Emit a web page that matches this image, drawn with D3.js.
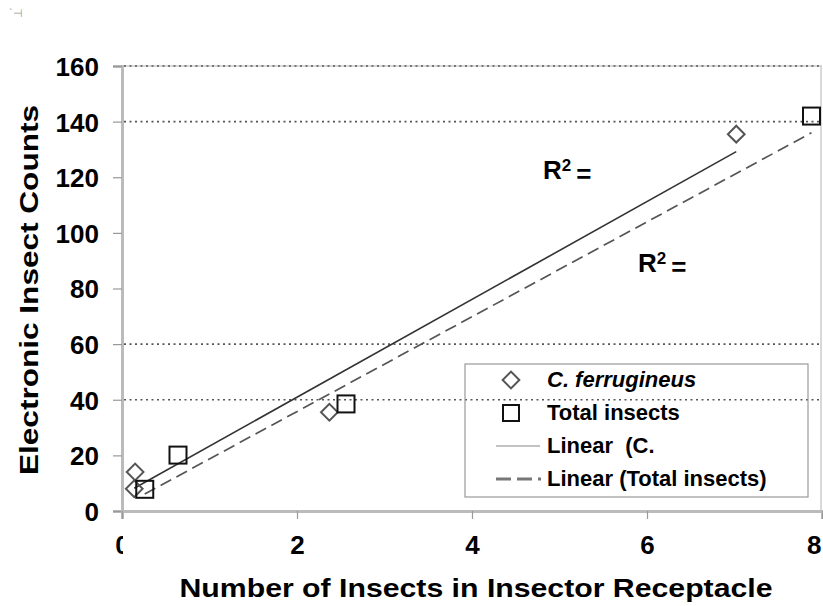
<!DOCTYPE html>
<html>
<head>
<meta charset="utf-8">
<script src="https://cdn.jsdelivr.net/npm/d3@7"></script>
<style>
  html, body { margin: 0; padding: 0; background: #fff; }
  svg { display: block; }
  text { font-family: "Liberation Sans", Arial, sans-serif; font-weight: bold; fill: #000; }
</style>
</head>
<body>
<svg id="chart" width="823" height="606"></svg>
<script>
// ---- data ----
const cferX = [0.15, 0.14, 2.37, 7.02];
const cferY = [14, 8, 35.5, 135.5];
const totalX = [0.26, 0.64, 2.56, 7.88];
const totalY = [7.8, 20.1, 38.5, 142];
const trendCferX = [0.14, 7.02];
const trendCferY = [8.2, 129.2];
const trendTotalX = [0.26, 7.88];
const trendTotalY = [6.1, 136];
const xTicks = [0, 2, 4, 6, 8];
const yTicks = [0, 20, 40, 60, 80, 100, 120, 140, 160];
const gridValues = [40, 60, 140, 160];
const legendLabels = ["C. ferrugineus", "Total insects", "Linear  (C.", "Linear (Total insects)"];
const r2Labels = ["R", "R"];
const xTitle = "Number of Insects in Insector Receptacle";
const yTitle = "Electronic Insect Counts";

const svg = d3.select("#chart");
const pLeft = 122, pRight = 822, pTop = 66, pBottom = 511;
const x = d3.scaleLinear().domain([0, 8]).range([pLeft, pRight]);
const y = d3.scaleLinear().domain([0, 160]).range([pBottom, pTop]);

// corner mark
svg.append("text").attr("x", 9).attr("y", 17).style("font-size", "11px")
  .style("font-weight", "normal").style("fill", "#999").text("`⊣");

// plot border (light)
svg.append("line").attr("x1", pRight - 1).attr("x2", pRight - 1).attr("y1", pTop).attr("y2", pBottom)
  .attr("stroke", "#ccc").attr("stroke-width", 1.5);
svg.append("line").attr("x1", pLeft).attr("x2", pRight).attr("y1", pTop).attr("y2", pTop)
  .attr("stroke", "#ccc").attr("stroke-width", 1.5);

// gridlines (dotted)
svg.append("g").selectAll("line").data(gridValues).join("line")
  .attr("x1", pLeft + 2).attr("x2", pRight - 2)
  .attr("y1", d => y(d)).attr("y2", d => y(d))
  .attr("stroke", "#555").attr("stroke-width", 1.6).attr("stroke-dasharray", "2,3.5");

// y axis
const yAxis = d3.axisLeft(y).tickValues(yTicks).tickSize(9).tickPadding(14);
const gy = svg.append("g").attr("transform", `translate(${pLeft},0)`).call(yAxis);
gy.select(".domain").attr("stroke", "#bbb").attr("stroke-width", 3);
gy.selectAll(".tick line").attr("stroke", "#999").attr("stroke-width", 1.2);
gy.selectAll(".tick text").style("font-size", "26px")
  .style("font-family", "'Liberation Sans', Arial, sans-serif").style("font-weight", "bold")
  .attr("fill", "#000").attr("dy", "0.36em");

// x axis
const xAxis = d3.axisBottom(x).tickValues(xTicks).tickSize(8).tickPadding(17);
const gx = svg.append("g").attr("transform", `translate(0,${pBottom})`).call(xAxis);
gx.select(".domain").attr("stroke", "#bbb").attr("stroke-width", 3);
gx.selectAll(".tick line").attr("stroke", "#999").attr("stroke-width", 1.2);
gx.selectAll(".tick text").style("font-size", "26px")
  .style("font-family", "'Liberation Sans', Arial, sans-serif").style("font-weight", "bold")
  .attr("fill", "#000")
  .attr("text-anchor", d => d === 8 ? "end" : "middle")
  .attr("dx", d => d === 8 ? "-1" : 0);
// the first label is clipped in the reference
const defs = svg.append("defs");
defs.append("clipPath").attr("id", "clip0").append("rect")
  .attr("x", -20).attr("y", 0).attr("width", 20.5).attr("height", 60);
gx.selectAll(".tick").filter(d => d === 0).select("text").attr("clip-path", "url(#clip0)");

// trend lines
const line = d3.line().x(d => x(d[0])).y(d => y(d[1]));
svg.append("path").datum(d3.zip(trendCferX, trendCferY)).attr("d", line)
  .attr("fill", "none").attr("stroke", "#333").attr("stroke-width", 1.6);
svg.append("path").datum(d3.zip(trendTotalX, trendTotalY)).attr("d", line)
  .attr("fill", "none").attr("stroke", "#555").attr("stroke-width", 1.7)
  .attr("stroke-dasharray", "12,6");

// markers
const diamond = d3.symbol().type(d3.symbolSquare).size(140);
svg.append("g").selectAll("path").data(d3.zip(cferX, cferY)).join("path")
  .attr("d", diamond())
  .attr("transform", d => `translate(${x(d[0])},${y(d[1])}) rotate(45)`)
  .attr("fill", "none").attr("stroke", "#555").attr("stroke-width", 2);
svg.append("g").selectAll("rect").data(d3.zip(totalX, totalY)).join("rect")
  .attr("x", d => x(d[0]) - 8.5).attr("y", d => y(d[1]) - 8.5)
  .attr("width", 17).attr("height", 17)
  .attr("fill", "none").attr("stroke", "#111").attr("stroke-width", 2);

// R² labels
const r2Pos = [[543, 179], [638, 272]];
r2Pos.forEach((p, i) => {
  const t = svg.append("text").attr("x", p[0]).attr("y", p[1]).style("font-size", "26px");
  t.append("tspan").text(r2Labels[i]);
  t.append("tspan").attr("dy", "-0.45em").style("font-size", "17px").text("2");
  t.append("tspan").attr("dy", "0.45em").attr("dx", "5").text("=");
});

// legend
const lg = svg.append("g");
lg.append("rect").attr("x", 465).attr("y", 364).attr("width", 343).attr("height", 133)
  .attr("fill", "none").attr("stroke", "#999").attr("stroke-width", 1.2);
const ly = [380, 413, 446, 479];
lg.append("path").attr("d", diamond())
  .attr("transform", `translate(511,${ly[0]}) rotate(45)`)
  .attr("fill", "none").attr("stroke", "#555").attr("stroke-width", 2);
lg.append("rect").attr("x", 503).attr("y", ly[1] - 8).attr("width", 16).attr("height", 16)
  .attr("fill", "none").attr("stroke", "#111").attr("stroke-width", 2);
lg.append("line").attr("x1", 496).attr("x2", 540).attr("y1", ly[2]).attr("y2", ly[2])
  .attr("stroke", "#888").attr("stroke-width", 1.2);
lg.append("line").attr("x1", 496).attr("x2", 541).attr("y1", ly[3]).attr("y2", ly[3])
  .attr("stroke", "#777").attr("stroke-width", 3).attr("stroke-dasharray", "15,6");
lg.selectAll("text.leg").data(legendLabels).join("text").attr("class", "leg")
  .attr("x", 547).attr("y", (d, i) => ly[i] + 7)
  .style("font-size", "22px")
  .style("white-space", "pre")
  .style("font-style", (d, i) => i === 0 ? "italic" : "normal")
  .text(d => d);

// axis titles
svg.append("text").attr("x", 476).attr("y", 597).attr("text-anchor", "middle")
  .style("font-size", "26px").attr("textLength", 593).attr("lengthAdjust", "spacingAndGlyphs")
  .text(xTitle);
svg.append("text").attr("transform", "translate(38,290) rotate(-90)").attr("text-anchor", "middle")
  .style("font-size", "26px").attr("textLength", 370).attr("lengthAdjust", "spacingAndGlyphs")
  .text(yTitle);
</script>
</body>
</html>
